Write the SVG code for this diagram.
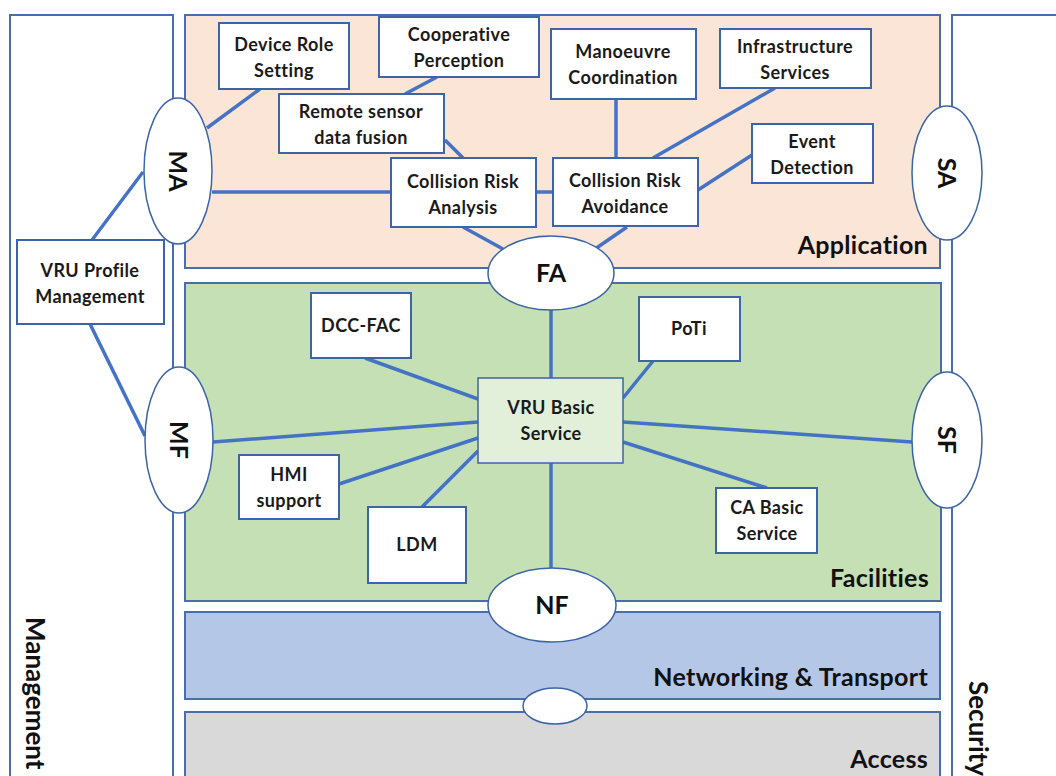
<svg xmlns="http://www.w3.org/2000/svg" width="1056" height="776" viewBox="0 0 1056 776">
<style>
.layer{stroke:#4a6ea9;stroke-width:2}
.box{fill:#ffffff;stroke:#3d64a6;stroke-width:2}
.ell{fill:#ffffff;stroke:#3d64a6;stroke-width:1.5}
.con{stroke:#4472c4;stroke-width:3.5;fill:none;stroke-linecap:butt}
.t{font-family:Lato,"Liberation Sans",sans-serif;font-weight:bold;font-size:18px;letter-spacing:0.4px;fill:#1a1a1a;text-anchor:middle}
.big{font-family:Lato,"Liberation Sans",sans-serif;font-weight:bold;font-size:25px;letter-spacing:0.3px;fill:#111;text-anchor:end}
.el{font-family:Lato,"Liberation Sans",sans-serif;font-weight:bold;font-size:25px;fill:#111;text-anchor:middle}
.side{font-family:Lato,"Liberation Sans",sans-serif;font-weight:bold;font-size:26px;fill:#111}
</style>
<rect width="1056" height="776" fill="#ffffff"/>
<g id="layers">
<rect id="management" x="10" y="15" width="163" height="780" fill="#ffffff" class="layer"/>
<rect id="security" x="952" y="15" width="130" height="780" fill="#ffffff" class="layer"/>
<rect id="application" x="185" y="15" width="755" height="253" fill="#fbe5d6" class="layer"/>
<rect id="facilities" x="185" y="283" width="756" height="318" fill="#c5e0b4" class="layer"/>
<rect id="networking" x="185" y="612" width="755" height="87" fill="#b4c7e7" class="layer"/>
<rect id="access" x="185" y="712" width="755" height="80" fill="#d9d9d9" class="layer"/>
<text class="big" x="928" y="254">Application</text>
<text class="big" x="929" y="587">Facilities</text>
<text class="big" x="928" y="686">Networking &amp; Transport</text>
<text class="big" x="928" y="768">Access</text>
<text class="side" transform="translate(26,617) rotate(90)">Management</text>
<text class="side" transform="translate(969,681) rotate(90)">Security</text>
</g>
<g id="connectors">
<line class="con" x1="260" y1="89" x2="207" y2="128"/>
<line class="con" x1="143" y1="172" x2="92" y2="240"/>
<line class="con" x1="90" y1="324" x2="145" y2="436"/>
<line class="con" x1="212" y1="192" x2="391" y2="192"/>
<line class="con" x1="437" y1="77" x2="405" y2="94"/>
<line class="con" x1="445" y1="140" x2="463" y2="158"/>
<line class="con" x1="536" y1="192" x2="553" y2="192"/>
<line class="con" x1="616" y1="99" x2="616" y2="158"/>
<line class="con" x1="775" y1="88" x2="653" y2="158"/>
<line class="con" x1="752" y1="155" x2="698" y2="190"/>
<line class="con" x1="463" y1="227" x2="503" y2="249"/>
<line class="con" x1="627" y1="227" x2="595" y2="249"/>
<line class="con" x1="551" y1="309" x2="551" y2="378"/>
<line class="con" x1="551" y1="463" x2="551" y2="568"/>
<line class="con" x1="365" y1="358" x2="478" y2="399"/>
<line class="con" x1="213" y1="442" x2="478" y2="422"/>
<line class="con" x1="339" y1="484" x2="478" y2="438"/>
<line class="con" x1="422" y1="507" x2="478" y2="451"/>
<line class="con" x1="653" y1="361" x2="623" y2="398"/>
<line class="con" x1="623" y1="422" x2="912" y2="442"/>
<line class="con" x1="623" y1="442" x2="767" y2="488"/>
</g>
<g id="MA"><ellipse class="ell" cx="178" cy="171" rx="34" ry="73"/><text class="el" transform="translate(178,171) rotate(90)" y="9">MA</text></g>
<g id="MF"><ellipse class="ell" cx="179" cy="440" rx="34" ry="73"/><text class="el" transform="translate(179,440) rotate(90)" y="9">MF</text></g>
<g id="SA"><ellipse class="ell" cx="947" cy="173" rx="35" ry="67"/><text class="el" transform="translate(947,173) rotate(90)" y="9">SA</text></g>
<g id="SF"><ellipse class="ell" cx="947" cy="440" rx="35" ry="68"/><text class="el" transform="translate(947,440) rotate(90)" y="9">SF</text></g>
<g id="FA"><ellipse class="ell" cx="551" cy="273" rx="63" ry="37"/><text class="el" x="551" y="282">FA</text></g>
<g id="NF"><ellipse class="ell" cx="552" cy="605" rx="64" ry="37"/><text class="el" x="552" y="614">NF</text></g>
<g id="AccessSAP"><ellipse class="ell" cx="555" cy="706" rx="32" ry="18"/></g>
<g id="device-role"><rect class="box" x="219" y="23" width="130" height="66"/><text class="t" x="284" y="51">Device Role</text><text class="t" x="284" y="77">Setting</text></g>
<g id="coop-perception"><rect class="box" x="379" y="17" width="160" height="60"/><text class="t" x="459" y="41">Cooperative</text><text class="t" x="459" y="67">Perception</text></g>
<g id="remote-fusion"><rect class="box" x="279" y="94" width="165" height="59"/><text class="t" x="361" y="118">Remote sensor</text><text class="t" x="361" y="144">data fusion</text></g>
<g id="manoeuvre"><rect class="box" x="551" y="29" width="145" height="70"/><text class="t" x="623" y="58">Manoeuvre</text><text class="t" x="623" y="84">Coordination</text></g>
<g id="infrastructure"><rect class="box" x="720" y="29" width="151" height="59"/><text class="t" x="795" y="53">Infrastructure</text><text class="t" x="795" y="79">Services</text></g>
<g id="event-detection"><rect class="box" x="752" y="124" width="121" height="59"/><text class="t" x="812" y="148">Event</text><text class="t" x="812" y="174">Detection</text></g>
<g id="cra"><rect class="box" x="391" y="158" width="145" height="69"/><text class="t" x="463" y="188">Collision Risk</text><text class="t" x="463" y="214">Analysis</text></g>
<g id="cravoid"><rect class="box" x="553" y="158" width="145" height="68"/><text class="t" x="625" y="187">Collision Risk</text><text class="t" x="625" y="213">Avoidance</text></g>
<g id="vru-profile"><rect class="box" x="17" y="240" width="147" height="84"/><text class="t" x="90" y="277">VRU Profile</text><text class="t" x="90" y="303">Management</text></g>
<g id="dcc-fac"><rect class="box" x="311" y="293" width="100" height="65"/><text class="t" x="361" y="332">DCC-FAC</text></g>
<g id="poti"><rect class="box" x="639" y="297" width="101" height="64"/><text class="t" x="689" y="335">PoTi</text></g>
<g id="vru-basic"><rect x="478" y="378" width="145" height="85" fill="#e2efd9" stroke="#3d64a6" stroke-width="1.5"/><text class="t" x="551" y="414">VRU Basic</text><text class="t" x="551" y="440">Service</text></g>
<g id="hmi"><rect class="box" x="239" y="455" width="100" height="64"/><text class="t" x="289" y="481">HMI</text><text class="t" x="289" y="507">support</text></g>
<g id="ldm"><rect class="box" x="368" y="507" width="98" height="76"/><text class="t" x="417" y="551">LDM</text></g>
<g id="ca-basic"><rect class="box" x="716" y="488" width="101" height="65"/><text class="t" x="767" y="514">CA Basic</text><text class="t" x="767" y="540">Service</text></g>
</svg>
